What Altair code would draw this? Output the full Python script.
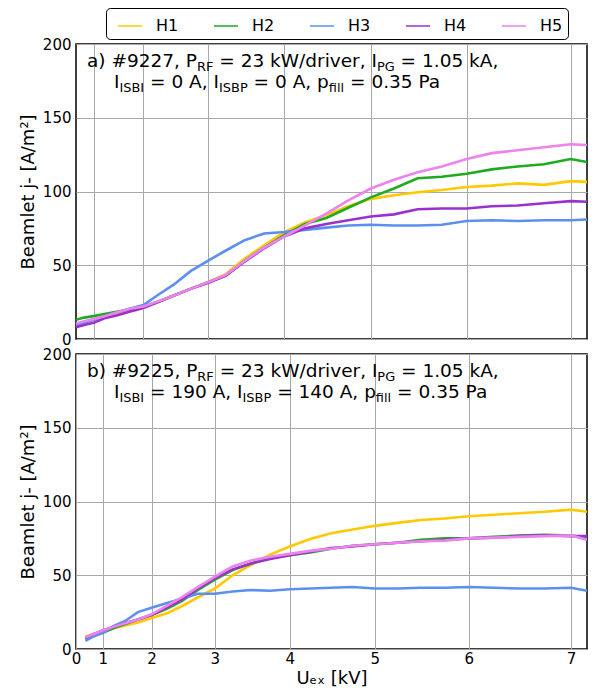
import altair as alt
import pandas as pd

FONT = "DejaVu Sans"

series_names = ["H1", "H2", "H3", "H4", "H5"]
series_colors = ["#FFC800", "#1FAA1F", "#5B8FF0", "#9932CC", "#EE82EE"]

u_ex = [0.5, 0.75, 1.0, 1.25, 1.5, 1.75, 2.0, 2.25, 2.5, 2.75, 3.0, 3.25, 3.5, 3.75,
        4.0, 4.25, 4.5, 4.75, 5.0, 5.25, 5.5, 5.75, 6.0, 6.25, 6.5, 6.75, 7.0, 7.15]

# panel a) #9227
a_H1 = [10, 11.5, 13, 15, 17.5, 19.5, 21.5, 25, 29.5, 34, 38.5, 44, 54.5, 63.5, 72.5, 79, 84, 90, 95, 97.5, 99.5, 101, 103, 104, 105.5, 104.5, 107, 106.5]
a_H2 = [13, 14.5, 15.5, 17, 18.5, 20, 22, 25.5, 29.5, 34, 38.5, 43, 53, 62, 70.5, 78, 82, 89, 96, 102, 109, 110, 112, 115, 117, 118.5, 122, 120]
a_H3 = [9.5, 11, 13, 15.5, 18, 20.5, 23, 30, 37, 46, 53, 60, 67, 71.5, 72.5, 74, 75.5, 77, 77.5, 77, 77, 77.5, 80, 80.5, 80, 80.5, 80.5, 81]
a_H4 = [8, 9.5, 11, 14, 16, 18.5, 21, 25, 29.5, 34, 38, 43, 52.5, 61.5, 69.5, 75, 78, 80.5, 83, 84.5, 88, 88.5, 88.5, 90, 90.5, 92, 93.5, 93]
a_H5 = [10.5, 12, 13.5, 15.5, 18, 20.5, 22, 25.5, 29.5, 34, 38.5, 43.5, 53, 62, 69.5, 77, 85, 94, 102, 108, 113, 117, 122, 126, 128, 130, 132, 131.5]

# panel b) #9225
b_H1 = [8.5, 10, 12, 14, 16, 18, 21, 24, 29, 35, 41, 50, 57, 64, 69.5, 74.5, 78.5, 81, 83.5, 85.5, 87.5, 88.5, 90, 91, 92, 93, 94.5, 93]
b_H2 = [7, 9, 11, 14, 17, 20, 23, 27, 32.5, 40, 47, 53.5, 58, 61.5, 63.5, 65.5, 68, 70, 71, 72, 74, 75, 75, 76, 77, 77.5, 77, 75.5]
b_H3 = [5.5, 8.5, 11, 15.5, 19, 25, 28, 31, 34, 37.5, 37.5, 39, 40, 39.5, 40.5, 41, 41.5, 42, 41, 41, 41.5, 41.5, 42, 41.5, 41, 41, 41.5, 39.5]
b_H4 = [7.5, 10, 12.5, 15, 17.5, 20, 23, 28, 33.5, 41, 48, 54, 58, 61, 63.5, 66, 68.5, 69.5, 71, 72, 73, 74, 75, 75.5, 76.5, 77, 76.5, 76.5]
b_H5 = [8, 10, 12.5, 15, 17.5, 20, 23.5, 29, 35, 42, 49, 56, 60, 62.5, 64.5, 66.5, 68, 70, 71, 72, 73, 73.5, 75, 75.5, 76, 76.5, 77, 74]

y_ticks = [0, 50, 100, 150, 200]
x_ticks_a = [1, 2, 3, 4, 5, 6, 7]
x_ticks_b = [0, 1, 2, 3, 4, 5, 6, 7]

# annotation text segments: (text, is_subscript)
ann_a_line1 = [("a) #9227, P", False), ("RF", True), (" = 23 kW/driver, I", False), ("PG", True), (" = 1.05 kA,", False)]
ann_a_line2 = [("I", False), ("ISBI", True), (" = 0 A, I", False), ("ISBP", True), (" = 0 A, p", False), ("fill", True), (" = 0.35 Pa", False)]
ann_b_line1 = [("b) #9225, P", False), ("RF", True), (" = 23 kW/driver, I", False), ("PG", True), (" = 1.05 kA,", False)]
ann_b_line2 = [("I", False), ("ISBI", True), (" = 190 A, I", False), ("ISBP", True), (" = 140 A, p", False), ("fill", True), (" = 0.35 Pa", False)]

y_title = "Beamlet j- [A/m²]"
x_title = "Uₑₓ [kV]"

# DejaVu Sans advance widths (units per em = 2048)
ADV = {' ': 651, '#': 1716, '(': 799, ')': 799, ',': 651, '-': 739, '.': 651, '/': 690,
       '=': 1716, 'A': 1401, 'B': 1405, 'F': 1178, 'G': 1577, 'I': 604, 'P': 1235,
       'R': 1423, 'S': 1300, 'W': 2025, 'a': 1255, 'b': 1300, 'd': 1300, 'e': 1260,
       'f': 721, 'i': 569, 'k': 1186, 'l': 569, 'p': 1300, 'r': 842, 'v': 1212}
for _d in "0123456789":
    ADV[_d] = 1303


def tw(s, size):
    return sum(ADV.get(c, 1200) for c in s) / 2048.0 * size


W, H = 511, 295
ANN_SIZE = 18.5
SUB_SCALE = 0.7


def text_layers(segments, x0, ybase):
    layers = []
    x = x0
    for txt, sub in segments:
        fs = ANN_SIZE * SUB_SCALE if sub else ANN_SIZE
        stripped = txt.lstrip(' ')
        lead = len(txt) - len(stripped)
        xd = x + tw(' ' * lead, fs)
        layers.append(
            alt.Chart(pd.DataFrame({"t": [stripped.rstrip(' ')]}))
            .mark_text(align="left", baseline="alphabetic", fontSize=fs, font=FONT, color="black")
            .encode(x=alt.value(xd), y=alt.value(ybase + (4 if sub else 0)), text="t:N")
        )
        x += tw(txt, fs)
    return layers


def make_df(vals):
    rows = []
    for name, ys in zip(series_names, vals):
        for u, j in zip(u_ex, ys):
            rows.append({"U": u, "j": j, "series": name})
    return pd.DataFrame(rows)


color = alt.Color(
    "series:N",
    scale=alt.Scale(domain=series_names, range=series_colors),
    legend=alt.Legend(
        title=" ", titleOrient="left", titleFontSize=1, titlePadding=6,
        orient="none", direction="horizontal", columns=5,
        legendX=30, legendY=-36,
        symbolType="stroke", symbolSize=576, symbolStrokeWidth=1.5,
        labelFontSize=16, labelFont=FONT, labelColor="black", labelOffset=13,
        columnPadding=32, padding=5, strokeColor="black", cornerRadius=4,
        fillColor="white",
    ),
)

y_enc = alt.Y(
    "j:Q", scale=alt.Scale(domain=[0, 200], nice=False),
    axis=alt.Axis(values=y_ticks, title=y_title, titlePadding=5),
)


def panel(vals, xdomain, xticks, show_x, l1, l2):
    if show_x:
        xaxis = alt.Axis(values=xticks, title=x_title, labelFlush=False)
    else:
        xaxis = alt.Axis(values=xticks, labels=False, title=None, labelPadding=0,
                         minExtent=0, maxExtent=0)
    lines = (
        alt.Chart(make_df(vals))
        .mark_line(strokeWidth=2.6, clip=True)
        .encode(
            x=alt.X("U:Q", scale=alt.Scale(type="pow", exponent=1.5, domain=xdomain, nice=False, zero=False), axis=xaxis),
            y=y_enc,
            color=color,
            order="series:N",
        )
    )
    layers = [lines] + text_layers(l1, 11, 23) + text_layers(l2, 38, 44)
    return alt.layer(*layers).properties(width=W, height=H)


pa = panel([a_H1, a_H2, a_H3, a_H4, a_H5], [0.5, 7.15], x_ticks_a, False, ann_a_line1, ann_a_line2)
pb = panel([b_H1, b_H2, b_H3, b_H4, b_H5], [0.0, 7.15], x_ticks_b, True, ann_b_line1, ann_b_line2)

chart = (
    alt.vconcat(pa, pb, spacing=15, bounds="flush")
    .resolve_scale(x="independent")
    .properties(padding={"left": 10, "top": -1, "right": 0, "bottom": 0})
    .configure_view(stroke="black", strokeWidth=1.5)
    .configure_axis(
        labelFont=FONT, titleFont=FONT, labelFontSize=15, titleFontSize=18,
        labelColor="black", titleColor="black", titleFontWeight="normal",
        gridColor="#a8a8a8", gridWidth=1, gridOpacity=1,
        ticks=False, domain=False, labelPadding=5,
    )
    .configure_axisX(labelPadding=2, titlePadding=3)
)

chart.save("out.html", embed_options={"renderer": "svg", "actions": False})
